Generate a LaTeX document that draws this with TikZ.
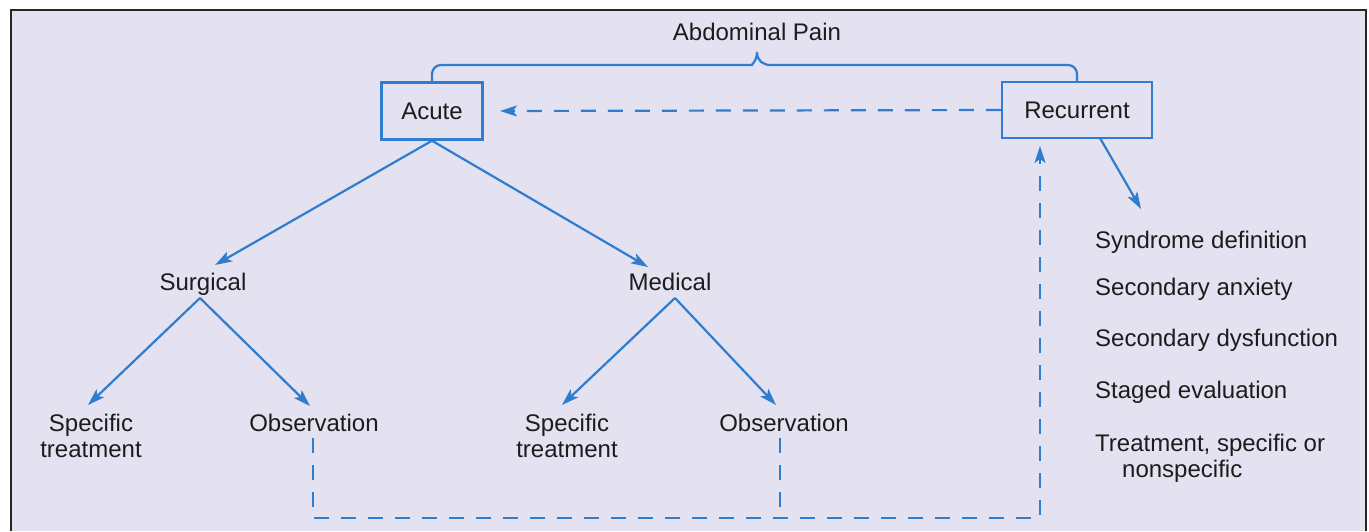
\documentclass[tikz,border=0pt]{standalone}
\usepackage{fontspec}
\setmainfont{Liberation Sans}
\usetikzlibrary{arrows.meta}
\definecolor{bgl}{HTML}{E4E1F0}
\definecolor{lblue}{HTML}{2E7DD1}
\definecolor{frm}{HTML}{262626}
\definecolor{txt}{HTML}{1C1C1C}
\begin{document}
\begin{tikzpicture}[x=1pt,y=-1pt,
  lbl/.style={inner sep=0pt, text=txt, font=\fontsize{24}{26}\selectfont},
  boxed/.style={draw=lblue, line width=2.4pt, inner sep=0pt, text=txt,
    font=\fontsize{24}{26}\selectfont},
  conn/.style={draw=lblue, line width=2.2pt, -{Stealth[length=17pt,width=11pt,inset=4pt]}},
  plain/.style={draw=lblue, line width=2.2pt},
  dashline/.style={draw=lblue, line width=2.2pt, dash pattern=on 15pt off 12pt},
  dasharrow/.style={dashline, -{Stealth[length=17pt,width=11pt,inset=4pt]}}
]
\useasboundingbox (0,0) rectangle (1369,531);
\fill[white] (0,0) rectangle (1369,531);
\fill[bgl] (11,10) rectangle (1366,531);
\draw[frm, line width=2.6pt] (11,531) -- (11,10) -- (1366,10) -- (1366,531);

% nodes
\node[lbl, anchor=base] (abd) at (757,40) {Abdominal Pain};
\node[boxed, minimum width=101pt, minimum height=57pt] (acute) at (432,111) {Acute};
\node[boxed, minimum width=150pt, minimum height=56pt] (rec) at (1077,110) {Recurrent};
\node[lbl, anchor=base] (surg) at (203,290) {Surgical};
\node[lbl, anchor=base] (med) at (670,290) {Medical};
\node[lbl, anchor=base, align=center] (spec1) at (91,457) {Specific\\treatment};
\node[lbl, anchor=base] (obs1) at (314,431) {Observation};
\node[lbl, anchor=base, align=center] (spec2) at (567,457) {Specific\\treatment};
\node[lbl, anchor=base] (obs2) at (784,431) {Observation};
\node[lbl, anchor=base west] (l1) at (1095,248) {Syndrome definition};
\node[lbl, anchor=base west] (l2) at (1095,295) {Secondary anxiety};
\node[lbl, anchor=base west] (l3) at (1095,346) {Secondary dysfunction};
\node[lbl, anchor=base west] (l4) at (1095,398) {Staged evaluation};
\node[lbl, anchor=base west, align=left] (l5) at (1095,477) {Treatment, specific or\\\hspace*{27pt}nonspecific};

% helper coordinates
\coordinate (surgtip) at (215,265);
\coordinate (medtip) at (648,267);
\coordinate (surgapex) at (200,298);
\coordinate (medapex) at (675,298);
\coordinate (s1tip) at (88,405);
\coordinate (o1tip) at (310,406);
\coordinate (s2tip) at (562,405);
\coordinate (o2tip) at (776,405);
\coordinate (recout) at (1100,138);
\coordinate (listtip) at (1141,209);
\coordinate (acutetip) at (500,111);
\coordinate (o1top) at (313,438);
\coordinate (o2top) at (780,438);
\coordinate (cornL) at (313,518);
\coordinate (cornR) at (1040,518);
\coordinate (rectip) at (1040,146);
\coordinate (o2bot) at (780,518);

% brace
\draw[plain] (acute.north) [rounded corners=9pt] |- (743,65) [sharp corners]
  .. controls (751,65) and (757,61) .. (757,52)
  .. controls (757,61) and (763,65) .. (771,65)
  [rounded corners=9pt] -| (rec.north);

% connectors
\draw[conn] (acute.south) -- (surgtip);
\draw[conn] (acute.south) -- (medtip);
\draw[conn] (surgapex) -- (s1tip);
\draw[conn] (surgapex) -- (o1tip);
\draw[conn] (medapex) -- (s2tip);
\draw[conn] (medapex) -- (o2tip);
\draw[conn] (recout) -- (listtip);
\draw[dasharrow] (rec.west) -- (acutetip);
\draw[dasharrow] (o1top) -- (cornL) -- (cornR) -- (rectip);
\draw[dashline] (o2top) -- (o2bot);
\end{tikzpicture}
\end{document}
